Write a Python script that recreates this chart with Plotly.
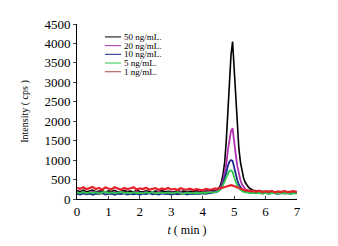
import plotly.graph_objects as go

# time axis (min)
t_pre = [0.0, 0.1, 0.2, 0.3, 0.4, 0.5, 0.6, 0.7, 0.8, 0.9,
         1.0, 1.1, 1.2, 1.3, 1.4, 1.5, 1.6, 1.7, 1.8, 1.9,
         2.0, 2.1, 2.2, 2.3, 2.4, 2.5, 2.6, 2.7, 2.8, 2.9,
         3.0, 3.1, 3.2, 3.3, 3.4, 3.5, 3.6, 3.7, 3.8, 3.9,
         4.0, 4.1, 4.2, 4.3, 4.4]
t_peak = [4.45, 4.5, 4.55, 4.6, 4.65, 4.7, 4.75, 4.8, 4.85, 4.9,
          4.95, 5.0, 5.05, 5.1, 5.15, 5.2, 5.25, 5.3, 5.35, 5.4,
          5.45, 5.5, 5.55, 5.6]
t_post = [5.7, 5.8, 5.9, 6.0, 6.1, 6.2, 6.3, 6.4, 6.5, 6.6, 6.7, 6.8, 6.9, 7.0]
t = t_pre + t_peak + t_post

labels = ["50 ng/mL.", "20 ng/mL.", "10 ng/mL.", "5 ng/mL.", "1 ng/mL."]

y50 = [210, 190, 225, 180, 205, 230, 185, 200, 215, 175, 210, 195, 220, 180, 200,
       215, 190, 205, 180, 220, 195, 185, 210, 200, 175, 205, 190, 215, 185, 200,
       195, 180, 210, 190, 205, 185, 200, 195, 215, 190, 205, 200, 210, 220, 215,
       240, 270, 330, 450, 650, 950, 1500, 2200, 3000, 3700, 4050, 3300, 2500, 1800,
       1300, 950, 700, 540, 430, 360, 310, 270, 245, 225,
       210, 190, 200, 180, 195, 175, 185, 170, 190, 175, 180, 165, 185, 170]
y20 = [170, 150, 185, 140, 165, 190, 150, 175, 145, 180, 160, 140, 175, 155, 185,
       150, 170, 140, 165, 180, 150, 160, 175, 145, 170, 155, 185, 150, 165, 140,
       175, 160, 150, 180, 145, 170, 155, 165, 150, 175, 160, 170, 180, 175, 190,
       200, 230, 280, 360, 480, 650, 900, 1250, 1550, 1750, 1820, 1550, 1150, 850,
       620, 480, 380, 310, 260, 230, 210, 200, 185, 180,
       170, 185, 160, 175, 150, 180, 165, 155, 175, 160, 170, 150, 165, 175]
y10 = [130, 115, 145, 120, 135, 110, 140, 125, 150, 115, 130, 140, 110, 135, 125,
       145, 115, 130, 120, 140, 110, 135, 125, 150, 120, 130, 115, 145, 125, 135,
       110, 140, 120, 130, 145, 115, 135, 125, 140, 130, 145, 135, 150, 160, 170,
       180, 210, 250, 310, 400, 520, 680, 850, 960, 1000, 980, 820, 640, 480,
       370, 300, 250, 215, 195, 180, 170, 165, 160, 155,
       150, 165, 140, 155, 135, 160, 145, 130, 155, 140, 150, 135, 160, 145]
y5 = [165, 150, 180, 145, 170, 155, 175, 140, 165, 185, 150, 170, 145, 160, 180,
      150, 165, 140, 175, 155, 160, 145, 170, 150, 180, 140, 165, 155, 150, 170,
      145, 160, 175, 150, 140, 165, 155, 145, 160, 150, 165, 155, 170, 165, 175,
      180, 200, 230, 280, 350, 450, 560, 660, 720, 740, 700, 560, 430, 340,
      270, 230, 205, 185, 175, 165, 160, 155, 150, 155,
      145, 160, 140, 155, 135, 160, 145, 150, 140, 155, 145, 135, 150, 140]
y1 = [290, 260, 300, 250, 280, 310, 255, 285, 240, 295, 270, 250, 300, 265, 240,
      285, 255, 275, 300, 245, 270, 255, 290, 240, 265, 280, 235, 270, 250, 285,
      245, 260, 230, 275, 250, 240, 265, 230, 255, 245, 225, 260, 240, 250, 270,
      260, 280, 270, 290, 300, 310, 320, 335, 340, 355, 345, 330, 310, 290,
      280, 260, 250, 235, 220, 230, 210, 215, 195, 205,
      190, 215, 175, 200, 185, 210, 170, 195, 180, 205, 175, 190, 200, 180]

series = [y50, y20, y10, y5, y1]
colors = ["#000000", "#b030b0", "#1c2a8c", "#2ec84a", "#e8222a"]
widths = [1.6, 1.8, 1.8, 1.8, 2.2]
legend_colors = ["#000000", "#b030b0", "#1c2a8c", "#2ec84a", "#a04848"]

fig = go.Figure()
for lab, ys, c, w in zip(labels, series, colors, widths):
    fig.add_trace(go.Scatter(x=t, y=ys, mode="lines", name=lab,
                             line=dict(color=c, width=w), showlegend=False))

font = "Liberation Serif"

# compact legend drawn in paper coordinates
for i, (lab, c) in enumerate(zip(labels, legend_colors)):
    yy = 0.926 - i * 0.0497
    fig.add_shape(type="line", xref="paper", yref="paper",
                  x0=0.127, x1=0.2, y0=yy, y1=yy,
                  line=dict(color=c, width=1))
    fig.add_annotation(xref="paper", yref="paper", x=0.207, y=yy,
                       text=lab, showarrow=False, xanchor="left",
                       yanchor="middle", borderpad=0,
                       font=dict(family=font, size=9, color="#000"))

# page body adds an 8px offset; compensate in the margins
fig.update_layout(
    width=338, height=246,
    margin=dict(l=69, r=49, t=16, b=55),
    paper_bgcolor="white", plot_bgcolor="white",
    font=dict(family=font, size=13, color="#000"),
    showlegend=False,
    xaxis=dict(range=[0, 7], dtick=1, showline=True, linecolor="#000",
               linewidth=1, ticks="inside", ticklen=3, showgrid=False,
               zeroline=False, mirror=False, automargin=False,
               tickfont=dict(size=13),
               title=dict(text="<i>t</i> ( min )", font=dict(size=12), standoff=8)),
    yaxis=dict(range=[0, 4500], dtick=500, showline=True, linecolor="#000",
               linewidth=1, ticks="outside", ticklen=3, showgrid=False,
               zeroline=False, automargin=False,
               tickfont=dict(size=13),
               title=dict(text="Intensity ( cps )", font=dict(size=10), standoff=13)),
)
fig.write_html("out.html")
